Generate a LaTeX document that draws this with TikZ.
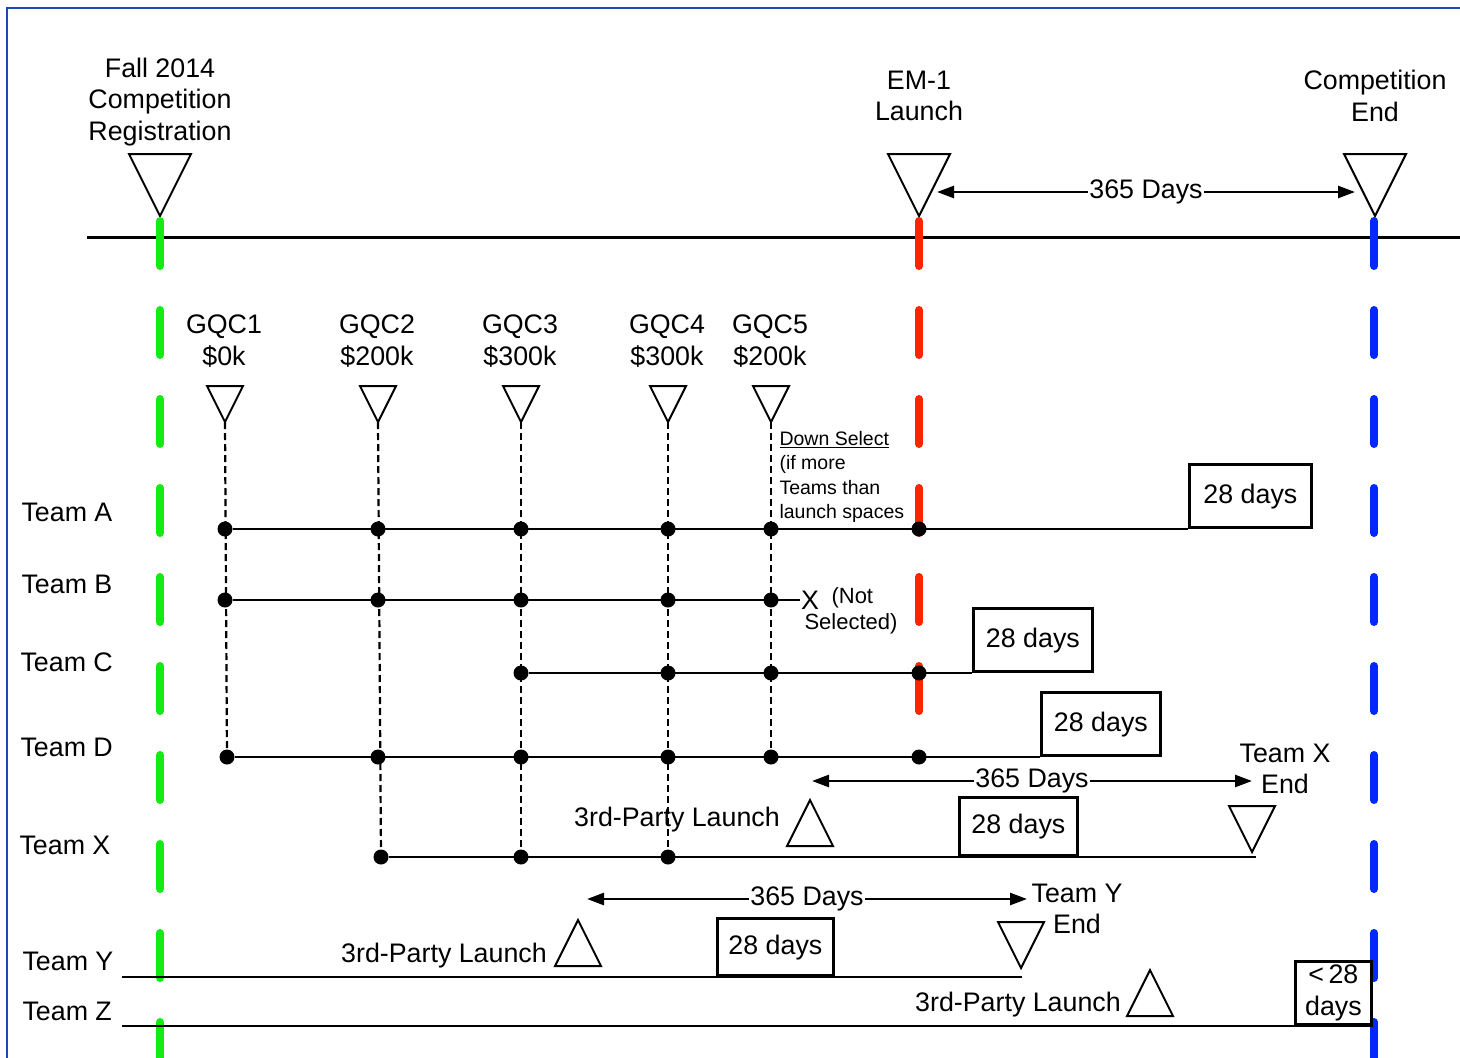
\documentclass[tikz,border=0pt]{standalone}
\usepackage{fontspec}
\setmainfont{Liberation Sans}
\usetikzlibrary{arrows.meta,positioning}

\definecolor{framecol}{RGB}{30,70,180}
\definecolor{regcol}{RGB}{20,235,20}
\definecolor{launchcol}{RGB}{255,35,0}
\definecolor{endcol}{RGB}{0,40,255}

\tikzset{
  phase/.style={line width=8pt, line cap=round, dash pattern=on 45pt off 44pt},
  gqcline/.style={line width=2.2pt, dash pattern=on 7pt off 4pt},
  teamline/.style={line width=2.6pt},
  dot/.style={circle, fill, inner sep=0pt, minimum size=15pt},
  daybox/.style={draw, line width=2.8pt, anchor=south west, inner sep=0pt, align=center},
  span/.style={line width=2.6pt, {Triangle[length=17pt,width=12pt]}-{Triangle[length=17pt,width=12pt]}},
  spanlabel/.style={fill=white, inner sep=1pt},
  pics/dtri/.style={code={\draw[line width=2pt] (0,0) -- (-#1/2,-#1) -- (#1/2,-#1) -- cycle;}},
  pics/utri/.style={code={\draw[line width=2pt] (0,0) -- (-#1/2,#1) -- (#1/2,#1) -- cycle;}}
}

\begin{document}
\begin{tikzpicture}[x=1pt, y=-1pt, font=\fontsize{26.8}{31.5}\selectfont]
  \useasboundingbox (0,0) rectangle (1460,1058);
  \draw[framecol, line width=2pt] (7,1058) -- (7,8) -- (1460,8);

  % main timeline and milestones
  \coordinate (tlstart) at (87,237);
  \coordinate (tlend) at (1460,237);
  \draw[line width=3pt] (tlstart) -- (tlend);
  \node[align=center] (reg) at (160,102) {Fall 2014\\Competition\\Registration};
  \node[align=center] (em1) at (919,96) {EM-1\\Launch};
  \node[align=center] (cend) at (1375,96) {Competition\\End};
  \pic at (160,216) {dtri=62};
  \pic at (919,216) {dtri=62};
  \pic at (1375,216) {dtri=62};

  \coordinate (regtop) at (160,221);
  \coordinate (regbot) at (160,1058);
  \coordinate (launchtop) at (919,221);
  \coordinate (launchbot) at (919,712);
  \coordinate (endtop) at (1374,221);
  \coordinate (endbot) at (1374,1058);
  \draw[phase, regcol] (regtop) -- (regbot);
  \draw[phase, launchcol] (launchtop) -- (launchbot);
  \draw[phase, endcol] (endtop) -- (endbot);

  \coordinate (s1a) at (937,192);
  \coordinate (s1b) at (1355,192);
  \draw[span] (s1a) -- node[spanlabel] (d1) {365 Days} (s1b);

  % GQC milestones
  \foreach \x/\i/\amt in {225/1/0k,378/2/200k,521/3/300k,668/4/300k,771/5/200k}{
    \pic at (\x,422) {dtri=36};
    \coordinate (g\i) at (\x,422);
    \node[align=center] (gqc\i) at (\x-1,341) {GQC\i\\\$\amt};
  }

  % teams
  \node[anchor=west] (ta) at (18,512) {Team A};
  \node[anchor=west] (tb) at (18,584) {Team B};
  \node[anchor=west] (tc) at (17,662) {Team C};
  \node[anchor=west] (td) at (17,747) {Team D};
  \node[anchor=west] (tx) at (16,845) {Team X};
  \node[anchor=west] (ty) at (19,961) {Team Y};
  \node[anchor=west] (tz) at (19,1011) {Team Z};

  \foreach \x [count=\i] in {225,378,521,668,771,919} \node[dot] (A\i) at (\x,529) {};
  \foreach \x [count=\i] in {225,378,521,668,771} \node[dot] (B\i) at (\x,600) {};
  \foreach \x [count=\i] in {521,668,771,919} \node[dot] (C\i) at (\x,673) {};
  \foreach \x [count=\i] in {227,378,521,668,771,919} \node[dot] (D\i) at (\x,757) {};
  \foreach \x [count=\i] in {381,521,668} \node[dot] (X\i) at (\x,857) {};

  \draw[gqcline] (g1) -- (D1);
  \draw[gqcline] (g2) -- (X1);
  \draw[gqcline] (g3) -- (X2);
  \draw[gqcline] (g4) -- (X3);
  \draw[gqcline] (g5) -- (D5);

  \node[anchor=west, align=left, font=\fontsize{19.5}{24.3}\selectfont] (downsel) at (776,477)
    {\underline{Down Select}\\(if more\\Teams than\\launch spaces};

  \node[daybox, minimum width=122pt, minimum height=63pt] (boxA) at (1188,529) {28 days};
  \draw[teamline] (A1) -- (boxA.south west);

  \node[inner sep=1pt] (xmark) at (810,600) {X};
  \node[anchor=west, align=left, font=\fontsize{22}{26}\selectfont] (notsel) at (801,611)
    {\hspace*{27pt}(Not\\Selected)};
  \draw[teamline] (B1) -- (xmark);

  \node[daybox, minimum width=119pt, minimum height=63pt] (boxC) at (972,673) {28 days};
  \draw[teamline] (C1) -- (boxC.south west);

  \node[daybox, minimum width=119pt, minimum height=63pt] (boxD) at (1040,757) {28 days};
  \draw[teamline] (D1) -- (boxD.south west);

  % team X
  \coordinate (s2a) at (812,781);
  \coordinate (s2b) at (1252,781);
  \draw[span] (s2a) -- node[spanlabel] (d2) {365 Days} (s2b);
  \node[align=center] (xend) at (1285,769) {Team X\\End};
  \node (xlaunch) at (677,820) {3rd-Party Launch};
  \pic at (810,800) {utri=46};
  \node[daybox, minimum width=118pt, minimum height=58pt] (boxX) at (958,857) {28 days};
  \pic at (1252,852) {dtri=46};
  \coordinate (xstop) at (1256,857);
  \draw[teamline] (X1) -- (xstop);

  % team Y
  \coordinate (s3a) at (587,899);
  \coordinate (s3b) at (1027,899);
  \draw[span] (s3a) -- node[spanlabel] (d3) {365 Days} (s3b);
  \node[align=center] (yend) at (1077,909) {Team Y\\End};
  \node (ylaunch) at (444,956) {3rd-Party Launch};
  \pic at (578,920) {utri=46};
  \node[daybox, minimum width=116pt, minimum height=57pt] (boxY) at (716,977) {28 days};
  \pic at (1021,968) {dtri=46};
  \coordinate (ystart) at (122,977);
  \coordinate (ystop) at (1022,977);
  \draw[teamline] (ystart) -- (ystop);

  % team Z
  \node (zlaunch) at (1018,1005) {3rd-Party Launch};
  \pic at (1150,970) {utri=46};
  \node[daybox, minimum width=76pt, minimum height=63pt] (boxZ) at (1294,1026) {<\,28\\days};
  \coordinate (zstart) at (122,1026);
  \draw[teamline] (zstart) -- (boxZ.south east);
\end{tikzpicture}
\end{document}
